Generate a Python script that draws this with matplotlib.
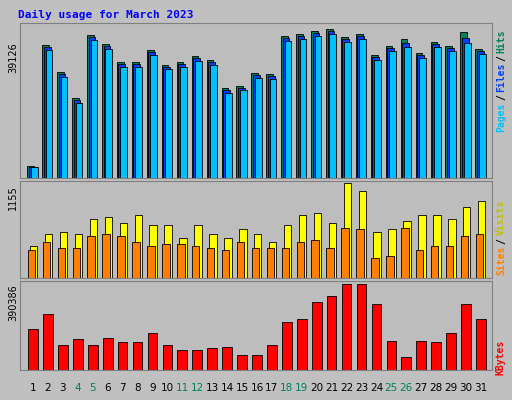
import matplotlib
matplotlib.use("Agg")
import matplotlib.pyplot as plt
import numpy as np

days = list(range(1, 32))
weekend = [4, 5, 11, 12, 18, 19, 25, 26]
hits = [3172,34896,27758,20885,37540,35160,30402,30402,33574,29609,30402,31988,30930,23528,24057,27494,
        27229,37275,37804,38597,39126,37011,37804,32252,34632,36482,32781,35689,34632,38333,33839]
files = [3000,34400,27200,20400,37000,34600,29900,29900,33100,29100,29900,31500,30400,23000,23600,27000,
         26800,36800,37300,38000,38600,36500,37300,31800,34100,35500,32300,35200,34100,36900,33300]
pages = [2800,33600,26500,19800,36300,33800,29200,29200,32300,28500,29200,30800,29700,22400,23000,26300,
         26100,36000,36500,37200,37700,35800,36500,31100,33300,34400,31600,34400,33300,35500,32600]
visits = [393,541,565,541,713,737,664,762,639,639,492,639,541,492,590,541,442,639,762,786,664,1155,1057,
          565,590,688,762,762,713,860,934]
sites = [344,442,369,369,516,541,516,442,393,418,418,393,369,344,442,369,369,369,442,467,369,614,590,
         246,270,614,344,393,393,516,541]
kbytes = [188300,252600,114800,142400,114800,147000,128600,128600,169900,114800,91900,91900,101000,105600,
          68900,68900,114800,215900,229600,307700,335300,390386,390386,298500,133200,59700,133200,128600,
          169900,298500,229600]

W, H = 512, 400
bg = "#C0C0C0"
fig = plt.figure(figsize=(W/100, H/100), dpi=100, facecolor=bg)

def ax_at(x0, y0, x1, y1):
    a = fig.add_axes([x0/W, 1-y1/H, (x1-x0)/W, (y1-y0)/H])
    a.set_facecolor("#BDBDBD")
    a.set_xticks([]); a.set_yticks([])
    for s in a.spines.values():
        s.set_color("#808080")
    a.set_xlim(0.13, 31.74)
    return a

x = np.array(days)
a1 = ax_at(20, 23, 492, 178)
a1.bar(x-0.15, hits, 0.45, color="#00805C", edgecolor="black", linewidth=0.6)
a1.bar(x-0.05, files, 0.45, color="#0040FF", edgecolor="black", linewidth=0.6)
a1.bar(x+0.08, pages, 0.45, color="#00C0FF", edgecolor="black", linewidth=0.6)
a1.set_ylim(0, max(hits)*154/148)

a2 = ax_at(20, 181, 492, 278)
a2.bar(x+0.05, visits, 0.5, color="#FFFF00", edgecolor="black", linewidth=0.6)
a2.bar(x-0.1, sites, 0.5, color="#FF8000", edgecolor="black", linewidth=0.6)
a2.set_ylim(0, max(visits)*96/94)

a3 = ax_at(20, 281, 492, 370)
a3.bar(x, kbytes, 0.65, color="#FF0000", edgecolor="black", linewidth=0.6)
a3.set_ylim(0, max(kbytes)*88/85)

for d in days:
    fig.text((33+(d-1)*14.93)/W, 1-388/H, str(d), ha="center", va="center",
             fontsize=7.5, color="#00805C" if d in weekend else "black")

fig.text(18/W, 1-15/H, "Daily usage for March 2023", fontsize=8, fontweight="bold",
         color="#0000FF", family="DejaVu Sans Mono", va="center")
fig.text(13/W, 1-58/H, "39126", rotation=90, fontsize=7, ha="center", va="center")
fig.text(13/W, 1-198/H, "1155", rotation=90, fontsize=7, ha="center", va="center")
fig.text(13/W, 1-303/H, "390386", rotation=90, fontsize=7, ha="center", va="center")

def rlabel(parts, ytop):
    y = ytop
    for t, c in parts:
        n = len(t)
        fig.text(501/W, 1-(y+n*3.3)/H, t, rotation=90, fontsize=7, color=c,
                 ha="center", va="center", family="DejaVu Sans Mono", fontweight="bold")
        y += n*6.6
rlabel([("Hits", "#00805C"), ("/", "black"), ("Files", "#0040FF"), ("/", "black"), ("Pages", "#00C0FF")], 28)
rlabel([("Visits", "#C0C000"), ("/", "black"), ("Sites", "#FF8000")], 198)
rlabel([("KBytes", "#FF0000")], 338)

fig.savefig("out.png", dpi=100, facecolor=bg)
